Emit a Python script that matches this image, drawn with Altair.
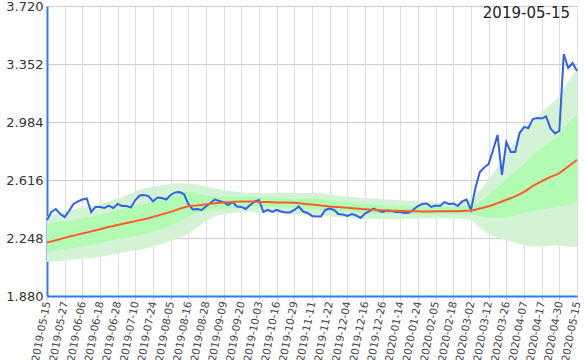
import altair as alt
import pandas as pd

# x-axis tick labels (one every 8 trading days)
tick_labels = ["2019-05-15", "2019-05-27", "2019-06-06", "2019-06-18", "2019-06-28", "2019-07-10",
               "2019-07-24", "2019-08-05", "2019-08-16", "2019-08-28", "2019-09-09", "2019-09-20",
               "2019-10-03", "2019-10-16", "2019-10-29", "2019-11-11", "2019-11-22", "2019-12-04",
               "2019-12-16", "2019-12-26", "2020-01-14", "2020-01-24", "2020-02-05", "2020-02-18",
               "2020-03-02", "2020-03-12", "2020-03-26", "2020-04-07", "2020-04-17", "2020-04-30",
               "2020-05-15"]
y_ticks = [1.880, 2.248, 2.616, 2.984, 3.352, 3.720]

# price, every 2 trading days
price = [2.362, 2.413, 2.432, 2.400, 2.381, 2.419, 2.464, 2.480, 2.492, 2.499,
         2.413, 2.445, 2.445, 2.438, 2.454, 2.438, 2.464, 2.451, 2.451, 2.442,
         2.489, 2.518, 2.521, 2.514, 2.480, 2.505, 2.502, 2.492, 2.521, 2.537,
         2.540, 2.527, 2.464, 2.429, 2.432, 2.426, 2.448, 2.470, 2.492, 2.483,
         2.476, 2.457, 2.476, 2.448, 2.445, 2.432, 2.457, 2.480, 2.489, 2.413,
         2.426, 2.413, 2.426, 2.416, 2.410, 2.410, 2.426, 2.448, 2.416, 2.407,
         2.388, 2.384, 2.384, 2.426, 2.435, 2.426, 2.400, 2.397, 2.388, 2.400,
         2.391, 2.375, 2.403, 2.419, 2.435, 2.422, 2.413, 2.422, 2.419, 2.413,
         2.413, 2.407, 2.410, 2.429, 2.451, 2.464, 2.467, 2.445, 2.454, 2.451,
         2.476, 2.464, 2.467, 2.451, 2.480, 2.492, 2.426, 2.565, 2.667, 2.695,
         2.718, 2.806, 2.902, 2.648, 2.857, 2.794, 2.794, 2.914, 2.952, 2.946,
         3.003, 3.009, 3.006, 3.019, 2.943, 2.911, 2.927, 3.415, 3.327, 3.358,
         3.308]

# trend and bands, every 4 trading days
trend = [2.219, 2.234, 2.249, 2.263, 2.277, 2.290, 2.304, 2.318, 2.330, 2.343,
         2.355, 2.367, 2.382, 2.398, 2.414, 2.433, 2.449, 2.455, 2.462, 2.469,
         2.473, 2.477, 2.480, 2.480, 2.477, 2.476, 2.474, 2.473, 2.471, 2.466,
         2.460, 2.454, 2.448, 2.444, 2.440, 2.435, 2.431, 2.428, 2.424, 2.421,
         2.420, 2.418, 2.417, 2.416, 2.417, 2.417, 2.418, 2.420, 2.422, 2.435,
         2.449, 2.469, 2.491, 2.512, 2.540, 2.578, 2.608, 2.635, 2.660, 2.702,
         2.743]
outer_hi = [2.388, 2.400, 2.415, 2.428, 2.442, 2.452, 2.464, 2.481, 2.500, 2.518,
            2.541, 2.563, 2.573, 2.582, 2.591, 2.594, 2.594, 2.587, 2.575, 2.563,
            2.553, 2.544, 2.538, 2.534, 2.534, 2.534, 2.534, 2.534, 2.534, 2.534,
            2.534, 2.533, 2.524, 2.516, 2.511, 2.506, 2.501, 2.498, 2.494, 2.491,
            2.487, 2.484, 2.480, 2.478, 2.475, 2.473, 2.471, 2.480, 2.494, 2.551,
            2.619, 2.698, 2.775, 2.867, 2.943, 2.988, 3.045, 3.095, 3.151, 3.240,
            3.314]
inner_hi = [2.337, 2.346, 2.353, 2.362, 2.372, 2.382, 2.394, 2.410, 2.426, 2.440,
            2.451, 2.463, 2.480, 2.498, 2.516, 2.534, 2.542, 2.531, 2.520, 2.511,
            2.511, 2.511, 2.511, 2.511, 2.508, 2.505, 2.502, 2.501, 2.499, 2.498,
            2.497, 2.495, 2.489, 2.483, 2.476, 2.469, 2.463, 2.460, 2.457, 2.455,
            2.452, 2.450, 2.448, 2.447, 2.446, 2.445, 2.445, 2.448, 2.454, 2.477,
            2.520, 2.568, 2.622, 2.669, 2.718, 2.773, 2.817, 2.854, 2.903, 2.978,
            3.028]
inner_lo = [2.159, 2.167, 2.175, 2.185, 2.194, 2.205, 2.216, 2.228, 2.238, 2.250,
            2.261, 2.272, 2.290, 2.308, 2.327, 2.356, 2.383, 2.407, 2.419, 2.427,
            2.434, 2.440, 2.444, 2.446, 2.445, 2.444, 2.443, 2.441, 2.437, 2.433,
            2.429, 2.426, 2.422, 2.420, 2.414, 2.408, 2.403, 2.402, 2.400, 2.400,
            2.398, 2.398, 2.397, 2.398, 2.399, 2.400, 2.400, 2.400, 2.399, 2.388,
            2.375, 2.375, 2.376, 2.391, 2.409, 2.419, 2.427, 2.440, 2.449, 2.457,
            2.470]
outer_lo = [2.096, 2.101, 2.106, 2.111, 2.116, 2.122, 2.127, 2.140, 2.150, 2.160,
            2.169, 2.178, 2.195, 2.212, 2.231, 2.249, 2.275, 2.316, 2.354, 2.384,
            2.397, 2.408, 2.412, 2.414, 2.412, 2.411, 2.409, 2.406, 2.400, 2.395,
            2.391, 2.388, 2.384, 2.382, 2.377, 2.372, 2.368, 2.367, 2.366, 2.367,
            2.369, 2.370, 2.371, 2.372, 2.372, 2.372, 2.372, 2.369, 2.360, 2.313,
            2.272, 2.251, 2.233, 2.218, 2.202, 2.195, 2.192, 2.200, 2.200, 2.193,
            2.193]

price_df = pd.DataFrame({"idx": list(range(0, 241, 2)), "value": price})
band_df = pd.DataFrame({"idx": list(range(0, 241, 4)), "trend": trend,
                        "outer_hi": outer_hi, "outer_lo": outer_lo,
                        "inner_hi": inner_hi, "inner_lo": inner_lo})

BLUE_AXIS = "#2a7bf6"
FONT = "DejaVu Sans"
label_js = "[" + ",".join("'" + s + "'" for s in tick_labels) + "]"

x_enc = alt.X("idx:Q",
              scale=alt.Scale(domain=[0, 240], nice=False, zero=False),
              axis=alt.Axis(values=list(range(0, 241, 8)),
                            labelExpr=label_js + "[round(datum.value / 8)]",
                            labelAngle=281, labelAlign="right", labelBaseline="middle",
                            labelFont=FONT, labelFontSize=10.5, labelColor="#444444",
                            labelPadding=1, labelOverlap=False,
                            grid=True, gridColor="#dddddd", gridWidth=1,
                            domainColor=BLUE_AXIS, domainWidth=2,
                            ticks=True, tickColor="#cccccc", tickSize=4,
                            title=None))
y_scale = alt.Scale(domain=[1.88, 3.72], nice=False, zero=False)
y_axis = alt.Axis(values=y_ticks, format=".3f",
                  labelFont=FONT, labelFontSize=13, labelColor="#333333", labelPadding=4,
                  grid=True, gridColor="#cccccc", gridWidth=1,
                  domainColor=BLUE_AXIS, domainWidth=2, ticks=False, title=None)

outer = alt.Chart(band_df).mark_area(color="#d4f3d4", opacity=1, interpolate="monotone").encode(
    x=x_enc, y=alt.Y("outer_hi:Q", scale=y_scale, axis=y_axis), y2="outer_lo:Q")
inner = alt.Chart(band_df).mark_area(color="#b2fbb2", opacity=1, interpolate="monotone").encode(
    x=x_enc, y=alt.Y("inner_hi:Q", scale=y_scale, axis=y_axis), y2="inner_lo:Q")
price_line = alt.Chart(price_df).mark_line(color="#3160ee", strokeWidth=2).encode(
    x=x_enc, y=alt.Y("value:Q", scale=y_scale, axis=y_axis))
trend_line = alt.Chart(band_df).mark_line(color="#ff5a2e", strokeWidth=2, interpolate="monotone").encode(
    x=x_enc, y=alt.Y("trend:Q", scale=y_scale, axis=y_axis))

chart = alt.layer(outer, inner, price_line, trend_line).properties(
    width=530, height=290,
    autosize=alt.AutoSizeParams(type="none"),
    padding={"left": 47, "top": 6, "right": 8, "bottom": 64},
    title=alt.TitleParams("2019-05-15", anchor="end", frame="group", orient="top",
                          offset=-21, dx=-7, font=FONT, fontSize=15,
                          fontWeight="normal", color="#222222"),
).configure_view(stroke="#cccccc").configure(background="white")

chart.save("out.html", embed_options={"renderer": "svg", "actions": False})
